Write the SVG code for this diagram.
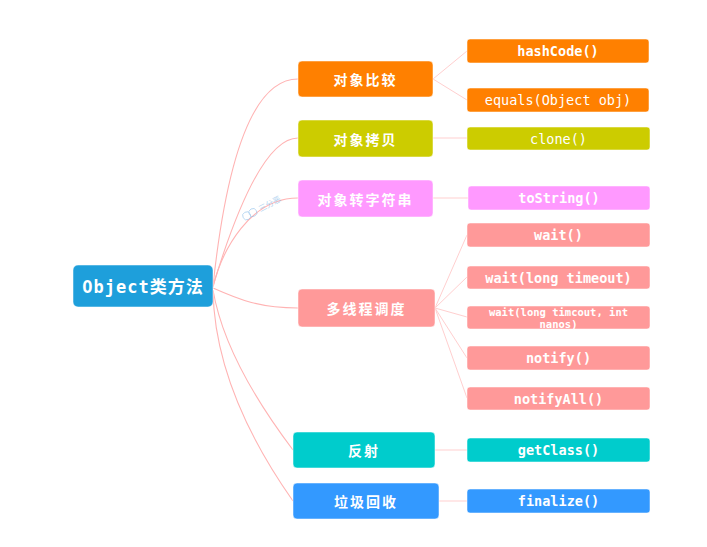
<svg xmlns="http://www.w3.org/2000/svg" width="707" height="547" viewBox="0 0 707 547">
<style>
.cn{font-family:"Noto Sans CJK SC","DejaVu Sans",sans-serif;font-weight:bold;font-size:14px;fill:#fff;letter-spacing:2px;text-anchor:middle;dominant-baseline:central}
.mono{font-family:"DejaVu Sans Mono","Liberation Mono",monospace;font-size:13.5px;fill:#fff;text-anchor:middle;dominant-baseline:central}
.b{font-weight:bold}
.c1{fill:none;stroke:#ffb3b3;stroke-width:1.1}
.c2{fill:none;stroke:#ffcfcf;stroke-width:1}
rect{stroke:#ffffff;stroke-opacity:0.5;stroke-width:1}
</style>
<rect x="0" y="0" width="707" height="547" fill="#ffffff" style="stroke:none"/>
<g id="connectors">
<path class="c1" d="M213,286 Q235,79 298,79"/>
<path class="c1" d="M213,286 Q258,138 298,138"/>
<path class="c1" d="M213,287 C222,250 250,198 298,198"/>
<path class="c1" d="M213,288 C240,300 260,308 298,308"/>
<path class="c1" d="M213,290 Q225,360 293,450"/>
<path class="c1" d="M213,291 Q215,390 293,501"/>
<path class="c2" d="M433,79 L467,51 M433,79 L467,100"/>
<path class="c2" d="M433,138 L467,138"/>
<path class="c2" d="M433,198 L468,198"/>
<path class="c2" d="M435,308 L467,235 M435,308 L467,277 M435,308 L467,317 M435,308 L467,358 M435,308 L467,398"/>
<path class="c2" d="M435,450 L467,450"/>
<path class="c2" d="M439,501 L467,501"/>
</g>
<g id="watermark" transform="translate(252,213) rotate(-28)" opacity="0.6">
<circle cx="-6" cy="0" r="4" fill="none" stroke="#7fb8e8" stroke-width="0.8"/>
<circle cx="1" cy="0" r="4" fill="none" stroke="#7fb8e8" stroke-width="0.8"/>
<text x="8" y="3" font-family="Noto Sans CJK SC,sans-serif" font-size="8" fill="#7fb8e8">三分恶</text>
</g>
<g id="root">
<rect x="73" y="265" width="140" height="42" rx="5" fill="#1e9fdb"/>
<text x="143" y="287" class="mono b" style="font-size:17px;letter-spacing:1px;font-family:'DejaVu Sans Mono','Noto Sans CJK SC',monospace">Object类方法</text>
</g>
<g id="n-compare">
<rect x="298" y="61" width="135" height="36" rx="4" fill="#ff8000"/>
<text x="365.5" y="79" class="cn">对象比较</text>
</g>
<g id="n-copy">
<rect x="298" y="120" width="135" height="37" rx="4" fill="#cccc00"/>
<text x="365.5" y="138.5" class="cn">对象拷贝</text>
</g>
<g id="n-tostring">
<rect x="298" y="180" width="135" height="37" rx="4" fill="#ff99ff"/>
<text x="365.5" y="198.5" class="cn">对象转字符串</text>
</g>
<g id="n-thread">
<rect x="298" y="289" width="137" height="38" rx="4" fill="#ff9999"/>
<text x="366.5" y="308" class="cn">多线程调度</text>
</g>
<g id="n-reflect">
<rect x="293" y="432" width="142" height="36" rx="4" fill="#00cccc"/>
<text x="364" y="450" class="cn">反射</text>
</g>
<g id="n-gc">
<rect x="293" y="483" width="146" height="36" rx="4" fill="#3399ff"/>
<text x="366" y="501" class="cn">垃圾回收</text>
</g>
<g id="m-hashcode">
<rect x="467" y="39" width="182" height="24" rx="3" fill="#ff8000"/>
<text x="558" y="51" class="mono b">hashCode()</text>
</g>
<g id="m-equals">
<rect x="467" y="88" width="182" height="24" rx="3" fill="#ff8000"/>
<text x="558" y="100" class="mono">equals(Object obj)</text>
</g>
<g id="m-clone">
<rect x="467" y="127" width="183" height="23" rx="3" fill="#cccc00"/>
<text x="558.5" y="138.5" class="mono">clone()</text>
</g>
<g id="m-tostring">
<rect x="468" y="186" width="182" height="24" rx="3" fill="#ff99ff"/>
<text x="559" y="198" class="mono b">toString()</text>
</g>
<g id="m-wait">
<rect x="467" y="223" width="183" height="24" rx="3" fill="#ff9999"/>
<text x="558.5" y="235" class="mono b">wait()</text>
</g>
<g id="m-wait-timeout">
<rect x="467" y="266" width="183" height="23" rx="3" fill="#ff9999"/>
<text x="558.5" y="277.5" class="mono b">wait(long timeout)</text>
</g>
<g id="m-wait-nanos">
<rect x="467" y="306" width="183" height="23" rx="3" fill="#ff9999"/>
<text x="558.5" y="311.5" class="mono b" style="font-size:10.5px">wait(long timcout, int</text>
<text x="558.5" y="323.5" class="mono b" style="font-size:10.5px">nanos)</text>
</g>
<g id="m-notify">
<rect x="467" y="346" width="183" height="24" rx="3" fill="#ff9999"/>
<text x="558.5" y="358" class="mono b">notify()</text>
</g>
<g id="m-notifyall">
<rect x="467" y="387" width="183" height="23" rx="3" fill="#ff9999"/>
<text x="558.5" y="398.5" class="mono b">notifyAll()</text>
</g>
<g id="m-getclass">
<rect x="467" y="438" width="183" height="24" rx="3" fill="#00cccc"/>
<text x="558.5" y="450" class="mono b">getClass()</text>
</g>
<g id="m-finalize">
<rect x="467" y="489" width="183" height="24" rx="3" fill="#3399ff"/>
<text x="558.5" y="501" class="mono b">finalize()</text>
</g>
</svg>
